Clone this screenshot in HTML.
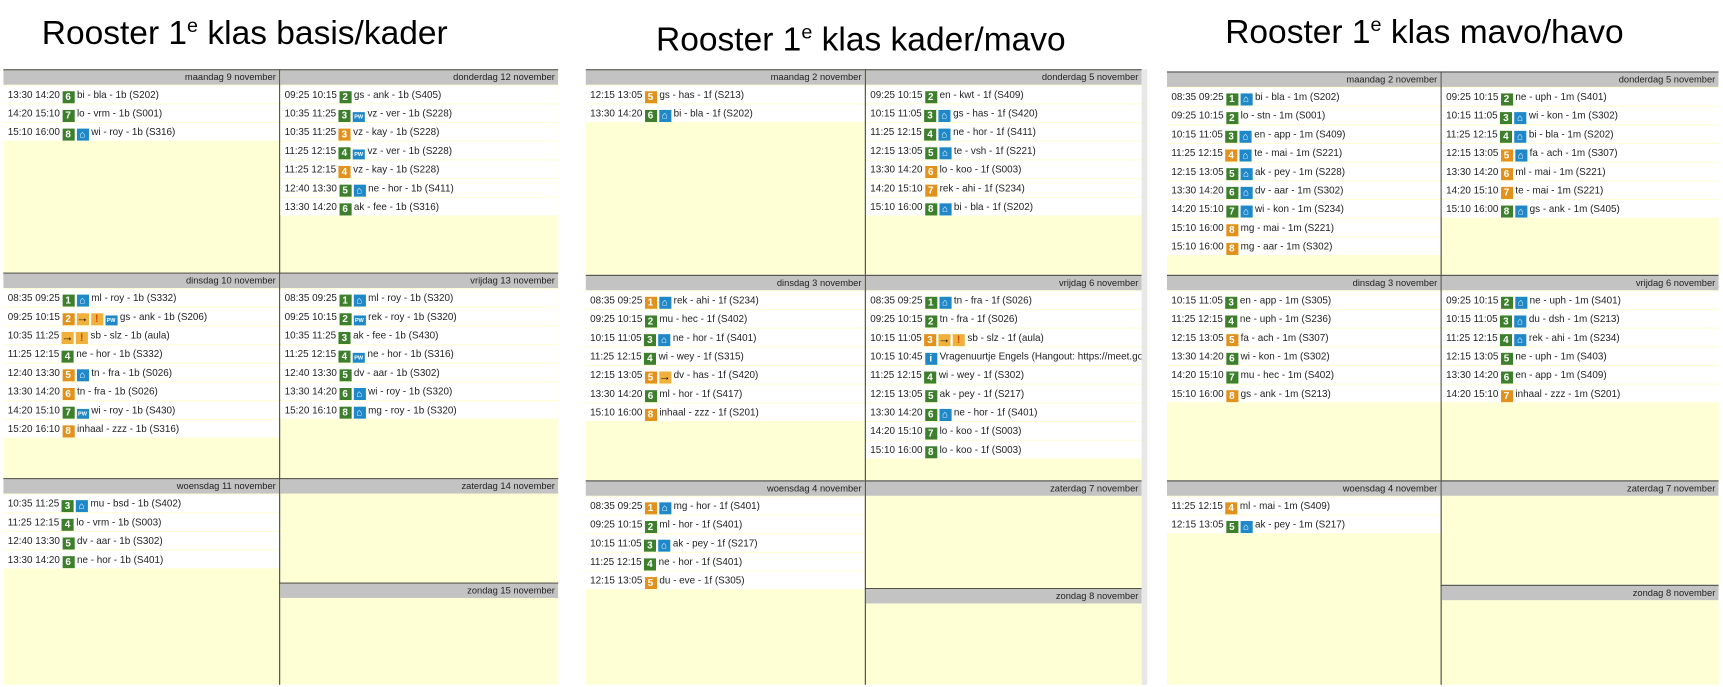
<!DOCTYPE html>
<html><head><meta charset="utf-8"><style>
html,body{margin:0;padding:0;background:#fff;overflow:hidden}
#w{position:absolute;left:0;top:0;width:1568px;height:625px;transform:scale(1.09885,1.0992);transform-origin:0 0;font-family:"Liberation Sans","DejaVu Sans",sans-serif}
.t{position:absolute;font-size:30.5px;color:#000;white-space:nowrap}
.t sup{font-size:18px;vertical-align:11px;line-height:0}
.d{position:absolute;background:#ffffd6;border-top:1px solid #444;box-sizing:border-box;overflow:hidden}
.r{border-left:1px solid #444}
.hd{height:13px;background:#c3c3c3;text-align:right;font-size:8.5px;line-height:13px;padding-right:3px;color:#222}
.e{height:16px;background:#fff;margin-top:1px;font-size:9px;line-height:16px;padding-left:4px;color:#222;white-space:nowrap;overflow:hidden}
.b{display:inline-block;width:11px;height:11px;vertical-align:-2px;margin-left:2px;color:#fff;font-weight:bold;font-size:9px;line-height:11px;text-align:center}
.g{background:#3d7f2c}.o{background:#e2921c}
.h,.p,.i{background:#1e88c8}
.p{font-size:5px;font-weight:bold}
.a{background:#efb13c;color:#000;font-size:11px;font-weight:900}
.x{background:#efb13c;color:#d05000;font-size:10px}
.sb{position:absolute;background:#e8e8e8}
</style></head><body><div id="w">
<div class="t" style="left:38px;top:13px">Rooster 1<sup>e</sup> klas basis/kader</div>
<div class="t" style="left:597px;top:19px">Rooster 1<sup>e</sup> klas kader/mavo</div>
<div class="t" style="left:1115px;top:12px">Rooster 1<sup>e</sup> klas mavo/havo</div>

<!-- Panel 1 -->
<div class="d" style="left:3px;top:63px;width:251px;height:185px"><div class="hd">maandag 9 november</div>
<div class="e">13:30 14:20<span class="b g">6</span> bi - bla - 1b (S202)</div>
<div class="e">14:20 15:10<span class="b g">7</span> lo - vrm - 1b (S001)</div>
<div class="e">15:10 16:00<span class="b g">8</span><span class="b h">⌂</span> wi - roy - 1b (S316)</div>
</div>
<div class="d r" style="left:254px;top:63px;width:254px;height:185px"><div class="hd">donderdag 12 november</div>
<div class="e">09:25 10:15<span class="b g">2</span> gs - ank - 1b (S405)</div>
<div class="e">10:35 11:25<span class="b g">3</span><span class="b p">PW</span> vz - ver - 1b (S228)</div>
<div class="e">10:35 11:25<span class="b o">3</span> vz - kay - 1b (S228)</div>
<div class="e">11:25 12:15<span class="b g">4</span><span class="b p">PW</span> vz - ver - 1b (S228)</div>
<div class="e">11:25 12:15<span class="b o">4</span> vz - kay - 1b (S228)</div>
<div class="e">12:40 13:30<span class="b g">5</span><span class="b h">⌂</span> ne - hor - 1b (S411)</div>
<div class="e">13:30 14:20<span class="b g">6</span> ak - fee - 1b (S316)</div>
</div>
<div class="d" style="left:3px;top:248px;width:251px;height:187px"><div class="hd">dinsdag 10 november</div>
<div class="e">08:35 09:25<span class="b g">1</span><span class="b h">⌂</span> ml - roy - 1b (S332)</div>
<div class="e">09:25 10:15<span class="b o">2</span><span class="b a">→</span><span class="b x">!</span><span class="b p">PW</span> gs - ank - 1b (S206)</div>
<div class="e">10:35 11:25<span class="b a">→</span><span class="b x">!</span> sb - slz - 1b (aula)</div>
<div class="e">11:25 12:15<span class="b g">4</span> ne - hor - 1b (S332)</div>
<div class="e">12:40 13:30<span class="b o">5</span><span class="b h">⌂</span> tn - fra - 1b (S026)</div>
<div class="e">13:30 14:20<span class="b o">6</span> tn - fra - 1b (S026)</div>
<div class="e">14:20 15:10<span class="b g">7</span><span class="b p">PW</span> wi - roy - 1b (S430)</div>
<div class="e">15:20 16:10<span class="b o">8</span> inhaal - zzz - 1b (S316)</div>
</div>
<div class="d r" style="left:254px;top:248px;width:254px;height:187px"><div class="hd">vrijdag 13 november</div>
<div class="e">08:35 09:25<span class="b g">1</span><span class="b h">⌂</span> ml - roy - 1b (S320)</div>
<div class="e">09:25 10:15<span class="b g">2</span><span class="b p">PW</span> rek - roy - 1b (S320)</div>
<div class="e">10:35 11:25<span class="b g">3</span> ak - fee - 1b (S430)</div>
<div class="e">11:25 12:15<span class="b g">4</span><span class="b p">PW</span> ne - hor - 1b (S316)</div>
<div class="e">12:40 13:30<span class="b g">5</span> dv - aar - 1b (S302)</div>
<div class="e">13:30 14:20<span class="b g">6</span><span class="b h">⌂</span> wi - roy - 1b (S320)</div>
<div class="e">15:20 16:10<span class="b g">8</span><span class="b h">⌂</span> mg - roy - 1b (S320)</div>
</div>
<div class="d" style="left:3px;top:435px;width:251px;height:188px"><div class="hd">woensdag 11 november</div>
<div class="e">10:35 11:25<span class="b g">3</span><span class="b h">⌂</span> mu - bsd - 1b (S402)</div>
<div class="e">11:25 12:15<span class="b g">4</span> lo - vrm - 1b (S003)</div>
<div class="e">12:40 13:30<span class="b g">5</span> dv - aar - 1b (S302)</div>
<div class="e">13:30 14:20<span class="b g">6</span> ne - hor - 1b (S401)</div>
</div>
<div class="d r" style="left:254px;top:435px;width:254px;height:95px"><div class="hd">zaterdag 14 november</div></div>
<div class="d r" style="left:254px;top:530px;width:254px;height:93px"><div class="hd">zondag 15 november</div></div>

<!-- Panel 2 -->
<div class="d" style="left:533px;top:63px;width:254px;height:187px"><div class="hd">maandag 2 november</div>
<div class="e">12:15 13:05<span class="b o">5</span> gs - has - 1f (S213)</div>
<div class="e">13:30 14:20<span class="b g">6</span><span class="b h">⌂</span> bi - bla - 1f (S202)</div>
</div>
<div class="d r" style="left:787px;top:63px;width:252px;height:187px"><div class="hd">donderdag 5 november</div>
<div class="e">09:25 10:15<span class="b g">2</span> en - kwt - 1f (S409)</div>
<div class="e">10:15 11:05<span class="b g">3</span><span class="b h">⌂</span> gs - has - 1f (S420)</div>
<div class="e">11:25 12:15<span class="b g">4</span><span class="b h">⌂</span> ne - hor - 1f (S411)</div>
<div class="e">12:15 13:05<span class="b g">5</span><span class="b h">⌂</span> te - vsh - 1f (S221)</div>
<div class="e">13:30 14:20<span class="b o">6</span> lo - koo - 1f (S003)</div>
<div class="e">14:20 15:10<span class="b o">7</span> rek - ahi - 1f (S234)</div>
<div class="e">15:10 16:00<span class="b g">8</span><span class="b h">⌂</span> bi - bla - 1f (S202)</div>
</div>
<div class="d" style="left:533px;top:250px;width:254px;height:187px"><div class="hd">dinsdag 3 november</div>
<div class="e">08:35 09:25<span class="b o">1</span><span class="b h">⌂</span> rek - ahi - 1f (S234)</div>
<div class="e">09:25 10:15<span class="b g">2</span> mu - hec - 1f (S402)</div>
<div class="e">10:15 11:05<span class="b g">3</span><span class="b h">⌂</span> ne - hor - 1f (S401)</div>
<div class="e">11:25 12:15<span class="b g">4</span> wi - wey - 1f (S315)</div>
<div class="e">12:15 13:05<span class="b o">5</span><span class="b a">→</span> dv - has - 1f (S420)</div>
<div class="e">13:30 14:20<span class="b g">6</span> ml - hor - 1f (S417)</div>
<div class="e">15:10 16:00<span class="b o">8</span> inhaal - zzz - 1f (S201)</div>
</div>
<div class="d r" style="left:787px;top:250px;width:252px;height:187px"><div class="hd">vrijdag 6 november</div>
<div class="e">08:35 09:25<span class="b g">1</span><span class="b h">⌂</span> tn - fra - 1f (S026)</div>
<div class="e">09:25 10:15<span class="b g">2</span> tn - fra - 1f (S026)</div>
<div class="e">10:15 11:05<span class="b o">3</span><span class="b a">→</span><span class="b x">!</span> sb - slz - 1f (aula)</div>
<div class="e">10:15 10:45<span class="b i">i</span> Vragenuurtje Engels (Hangout: https://meet.google.c</div>
<div class="e">11:25 12:15<span class="b g">4</span> wi - wey - 1f (S302)</div>
<div class="e">12:15 13:05<span class="b g">5</span> ak - pey - 1f (S217)</div>
<div class="e">13:30 14:20<span class="b g">6</span><span class="b h">⌂</span> ne - hor - 1f (S401)</div>
<div class="e">14:20 15:10<span class="b g">7</span> lo - koo - 1f (S003)</div>
<div class="e">15:10 16:00<span class="b g">8</span> lo - koo - 1f (S003)</div>
</div>
<div class="d" style="left:533px;top:437px;width:254px;height:186px"><div class="hd">woensdag 4 november</div>
<div class="e">08:35 09:25<span class="b o">1</span><span class="b h">⌂</span> mg - hor - 1f (S401)</div>
<div class="e">09:25 10:15<span class="b g">2</span> ml - hor - 1f (S401)</div>
<div class="e">10:15 11:05<span class="b g">3</span><span class="b h">⌂</span> ak - pey - 1f (S217)</div>
<div class="e">11:25 12:15<span class="b g">4</span> ne - hor - 1f (S401)</div>
<div class="e">12:15 13:05<span class="b o">5</span> du - eve - 1f (S305)</div>
</div>
<div class="d r" style="left:787px;top:437px;width:252px;height:98px"><div class="hd">zaterdag 7 november</div></div>
<div class="d r" style="left:787px;top:535px;width:252px;height:88px"><div class="hd">zondag 8 november</div></div>
<div class="sb" style="left:1039px;top:63px;width:5px;height:560px"></div>

<!-- Panel 3 -->
<div class="d" style="left:1062px;top:65px;width:249px;height:185px"><div class="hd">maandag 2 november</div>
<div class="e">08:35 09:25<span class="b g">1</span><span class="b h">⌂</span> bi - bla - 1m (S202)</div>
<div class="e">09:25 10:15<span class="b g">2</span> lo - stn - 1m (S001)</div>
<div class="e">10:15 11:05<span class="b g">3</span><span class="b h">⌂</span> en - app - 1m (S409)</div>
<div class="e">11:25 12:15<span class="b o">4</span><span class="b h">⌂</span> te - mai - 1m (S221)</div>
<div class="e">12:15 13:05<span class="b g">5</span><span class="b h">⌂</span> ak - pey - 1m (S228)</div>
<div class="e">13:30 14:20<span class="b g">6</span><span class="b h">⌂</span> dv - aar - 1m (S302)</div>
<div class="e">14:20 15:10<span class="b g">7</span><span class="b h">⌂</span> wi - kon - 1m (S234)</div>
<div class="e">15:10 16:00<span class="b o">8</span> mg - mai - 1m (S221)</div>
<div class="e">15:10 16:00<span class="b o">8</span> mg - aar - 1m (S302)</div>
</div>
<div class="d r" style="left:1311px;top:65px;width:253px;height:185px"><div class="hd">donderdag 5 november</div>
<div class="e">09:25 10:15<span class="b g">2</span> ne - uph - 1m (S401)</div>
<div class="e">10:15 11:05<span class="b g">3</span><span class="b h">⌂</span> wi - kon - 1m (S302)</div>
<div class="e">11:25 12:15<span class="b g">4</span><span class="b h">⌂</span> bi - bla - 1m (S202)</div>
<div class="e">12:15 13:05<span class="b o">5</span><span class="b h">⌂</span> fa - ach - 1m (S307)</div>
<div class="e">13:30 14:20<span class="b o">6</span> ml - mai - 1m (S221)</div>
<div class="e">14:20 15:10<span class="b o">7</span> te - mai - 1m (S221)</div>
<div class="e">15:10 16:00<span class="b g">8</span><span class="b h">⌂</span> gs - ank - 1m (S405)</div>
</div>
<div class="d" style="left:1062px;top:250px;width:249px;height:187px"><div class="hd">dinsdag 3 november</div>
<div class="e">10:15 11:05<span class="b g">3</span> en - app - 1m (S305)</div>
<div class="e">11:25 12:15<span class="b g">4</span> ne - uph - 1m (S236)</div>
<div class="e">12:15 13:05<span class="b o">5</span> fa - ach - 1m (S307)</div>
<div class="e">13:30 14:20<span class="b g">6</span> wi - kon - 1m (S302)</div>
<div class="e">14:20 15:10<span class="b g">7</span> mu - hec - 1m (S402)</div>
<div class="e">15:10 16:00<span class="b o">8</span> gs - ank - 1m (S213)</div>
</div>
<div class="d r" style="left:1311px;top:250px;width:253px;height:187px"><div class="hd">vrijdag 6 november</div>
<div class="e">09:25 10:15<span class="b g">2</span><span class="b h">⌂</span> ne - uph - 1m (S401)</div>
<div class="e">10:15 11:05<span class="b g">3</span><span class="b h">⌂</span> du - dsh - 1m (S213)</div>
<div class="e">11:25 12:15<span class="b g">4</span><span class="b h">⌂</span> rek - ahi - 1m (S234)</div>
<div class="e">12:15 13:05<span class="b g">5</span> ne - uph - 1m (S403)</div>
<div class="e">13:30 14:20<span class="b g">6</span> en - app - 1m (S409)</div>
<div class="e">14:20 15:10<span class="b o">7</span> inhaal - zzz - 1m (S201)</div>
</div>
<div class="d" style="left:1062px;top:437px;width:249px;height:186px"><div class="hd">woensdag 4 november</div>
<div class="e">11:25 12:15<span class="b o">4</span> ml - mai - 1m (S409)</div>
<div class="e">12:15 13:05<span class="b g">5</span><span class="b h">⌂</span> ak - pey - 1m (S217)</div>
</div>
<div class="d r" style="left:1311px;top:437px;width:253px;height:95px"><div class="hd">zaterdag 7 november</div></div>
<div class="d r" style="left:1311px;top:532px;width:253px;height:91px"><div class="hd">zondag 8 november</div></div>
</div></body></html>
